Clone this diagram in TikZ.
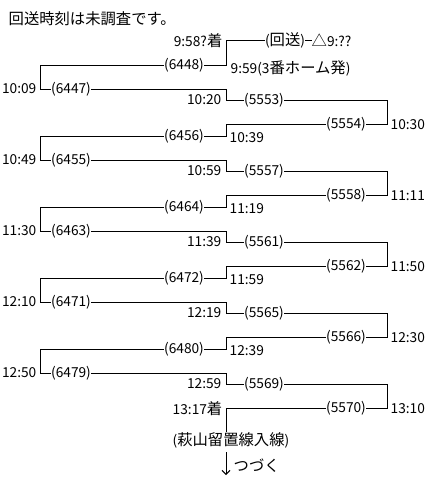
\documentclass[tikz,border=0pt]{standalone}
\usepackage{fontspec}
\setmainfont{Noto Sans CJK JP}
\usetikzlibrary{arrows.meta}
\newcommand\numsz{\fontsize{10.3pt}{12pt}\selectfont}
\tikzset{
  lbl/.style={inner xsep=0.3pt, inner ysep=0pt, font=\fontsize{11.5pt}{13pt}\selectfont},
  num/.style={lbl, font=\numsz},
  wire/.style={line width=0.75pt, line cap=rect},
  tip/.style={-{Straight Barb[length=3pt,width=6pt,line width=0.75pt]}}
}
\begin{document}
\begin{tikzpicture}[x=0.75pt,y=-0.75pt]
\fill[white] (0,0) rectangle (440,490);
\useasboundingbox (0,0) rectangle (440,490);

% title
\node[lbl,anchor=west] (title) at (8,19) {回送時刻は未調査です。};

% top rows
\node[lbl,anchor=east] (arr) at (223,41) {{\numsz 9:58?}着};
\coordinate (A) at (226,40);
\node[lbl] (kaiso) at (285,40) {{\numsz(}回送{\numsz)}};
\node[lbl,anchor=west] (sankaku) at (311,40) {△{\numsz 9:??}};
\draw[wire] (kaiso.east) -- (sankaku.west);
\coordinate (Md0) at (226,65.5);
\node[num] (nd0) at (184,65.5) {(6448)};
\node[lbl,anchor=west] (td0) at (230,68) {{\numsz 9:59(3}番ホーム発{\numsz)}};
\coordinate (Ld0) at (40,65.5);

% repeated cycles, upper part
\foreach \k/\ta/\na/\tb/\nb/\tc/\nc in {1/10:09/6447/10:20/5553/10:30/5554,
  2/10:49/6455/10:59/5557/11:11/5558,
  3/11:30/6463/11:39/5561/11:50/5562,
  4/12:10/6471/12:19/5565/12:30/5566,
  5/12:50/6479/12:59/5569/13:10/5570}{
  \pgfmathsetmacro\y{89+71*(\k-1)}
  \coordinate (L\k) at (40,\y);
  \node[num,anchor=east] (ta\k) at (37,\y) {\ta};
  \node[num] (na\k) at (71,\y) {(\na)};
  \coordinate (M\k) at (226,\y);
  \coordinate (Mb\k) at (226,\y+11);
  \node[num,anchor=east] (tb\k) at (222,\y+11) {\tb};
  \node[num] (nb\k) at (264,\y+11) {(\nb)};
  \coordinate (R\k) at (387,\y+11);
  \coordinate (Rc\k) at (387,\y+35.5);
  \node[num,anchor=west] (tc\k) at (390,\y+36) {\tc};
  \node[num] (nc\k) at (346,\y+35.5) {(\nc)};
  \coordinate (Mc\k) at (226,\y+35.5);
}

% lower parts
\foreach \k/\td/\nd in {1/10:39/6456, 2/11:19/6464, 3/11:59/6472, 4/12:39/6480}{
  \pgfmathsetmacro\y{89+71*(\k-1)}
  \node[num,anchor=west] (td\k) at (229,\y+49) {\td};
  \node[num] (nd\k) at (184,\y+47.5) {(\nd)};
  \coordinate (Md\k) at (226,\y+47.5);
  \coordinate (Ld\k) at (40,\y+47.5);
}

% connectors
\draw[wire] (kaiso.west) -- (A) -- (Md0) -- (nd0.east);
\foreach \k [evaluate=\k as \p using int(\k-1)] in {1,...,5}{
  \draw[wire] (nd\p.west) -- (Ld\p) -- (L\k) -- (na\k.west);
  \draw[wire] (na\k.east) -- (M\k) -- (Mb\k) -- (nb\k.west);
  \draw[wire] (nb\k.east) -- (R\k) -- (Rc\k) -- (nc\k.east);
  \draw[wire] (nc\k.west) -- (Mc\k);
}
\foreach \k in {1,...,4}{
  \draw[wire] (Mc\k) -- (Md\k) -- (nd\k.east);
}

% ending
\node[lbl,anchor=east] (end) at (223,409) {{\numsz 13:17}着};
\node[lbl] (hagi) at (231,440) {{\numsz(}萩山留置線入線{\numsz)}};
\draw[wire] (Mc5) -- (Mc5 |- hagi.north);
\coordinate (ars) at (226,452);
\coordinate (are) at (226,475);
\draw[line width=0.75pt, tip] (ars) -- (are);
\node[lbl,anchor=west] (tsuzuku) at (233,466) {つづく};
\end{tikzpicture}
\end{document}
